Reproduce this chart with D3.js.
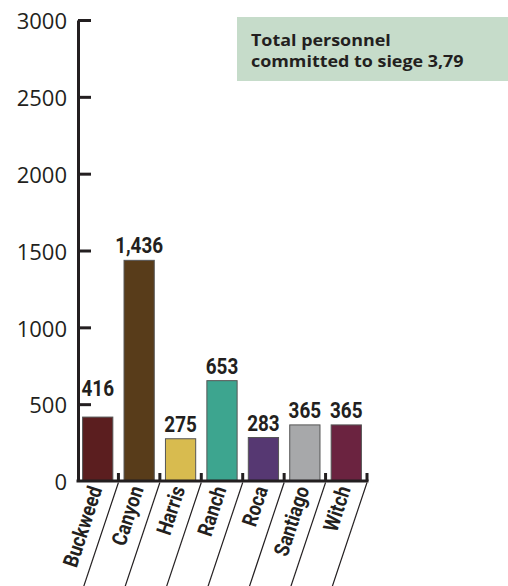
<!DOCTYPE html>
<html>
<head>
<meta charset="utf-8">
<script src="https://cdn.jsdelivr.net/npm/d3@7"></script>
<style>
  body { margin: 0; background: #fff; }
  svg { display: block; }
  .narrow { font-family: Roboto, "Liberation Sans", sans-serif; font-weight: bold; }
</style>
</head>
<body>
<div id="chart"></div>
<script>
// Personnel committed per fire
let fires = ["Buckweed", "Canyon", "Harris", "Ranch", "Roca", "Santiago", "Witch"];
let personnel = [416, 1436, 275, 653, 283, 365, 365];
let barColors = ["#5b1e1f", "#583c1a", "#d8bb4f", "#3da58f", "#563872", "#a7a8aa", "#6b2340"];
let yTicks = [0, 500, 1000, 1500, 2000, 2500, 3000];
let noteLines = ["Total personnel", "committed to siege 3,79"];

let width = 508,
    height = 586;

let data = fires.map(function (f, i) {
    return { name: f, value: personnel[i], color: barColors[i] };
});

let svg = d3.select("#chart").append("svg")
    .attr("width", width)
    .attr("height", height);

// Scales
let padIn = 0.27;
let x = d3.scaleBand()
    .domain(fires)
    .range([77, 367])
    .paddingInner(padIn)
    .paddingOuter(padIn / 2);

let y = d3.scaleLinear()
    .domain([0, 3000])
    .range([481, 20]);

// Note box top right
svg.append("rect")
    .attr("x", 237)
    .attr("y", 17)
    .attr("width", width - 237)
    .attr("height", 64)
    .attr("fill", "#c6dcca");

svg.append("g").selectAll("text")
    .data(noteLines)
    .enter().append("text")
    .attr("transform", function (d, i) {
        return "translate(251," + (46 + i * 20.5) + ") scale(1.12,1)";
    })
    .style("font-family", "'Open Sans', sans-serif")
    .style("font-weight", "bold")
    .style("font-size", "16px")
    .attr("fill", "#231f20")
    .text(function (d) { return d; });

// Bars
svg.append("g").selectAll("rect")
    .data(data)
    .enter().append("rect")
    .attr("x", function (d) { return x(d.name); })
    .attr("y", function (d) { return y(d.value); })
    .attr("width", x.bandwidth())
    .attr("height", function (d) { return y(0) - y(d.value); })
    .attr("fill", function (d) { return d.color; })
    .attr("stroke", "#555")
    .attr("stroke-width", 1);

// Value labels (Buckweed sits above the 500 tick)
svg.append("g").selectAll("text")
    .data(data)
    .enter().append("text")
    .attr("class", "narrow")
    .attr("transform", function (d) {
        let lx = x(d.name) + x.bandwidth() / 2;
        let ly = y(d.value) - (d.name === "Buckweed" ? 21 : 7);
        return "translate(" + lx + "," + ly + ") scale(0.84,1)";
    })
    .attr("text-anchor", "middle")
    .style("font-size", "22.5px")
    .attr("fill", "#231f20")
    .text(function (d) { return d3.format(",")(d.value); });

// Y axis
let yAxis = svg.append("g")
    .attr("transform", "translate(78,0)")
    .call(d3.axisLeft(y)
        .tickValues(yTicks)
        .tickFormat(d3.format("d"))
        .tickSizeInner(-13)
        .tickSizeOuter(0)
        .tickPadding(11));

yAxis.select(".domain")
    .attr("stroke", "#231f20")
    .attr("stroke-width", 3);
yAxis.selectAll(".tick line")
    .attr("stroke", "#231f20")
    .attr("stroke-width", 3);
yAxis.selectAll(".tick text")
    .attr("fill", "#231f20")
    .attr("dy", "0.4em")
    .style("font-family", "'Open Sans', sans-serif")
    .style("font-size", "22px");
yAxis.selectAll(".tick").filter(function (d) { return d === 0; })
    .select("line").remove();

// X axis: baseline, boundary ticks and slanted divider lines
let step = x.step();
let bounds = fires.map(function (f) {
    return x(f) + x.bandwidth() + step * padIn / 2;
});
let base = y(0);
let slope = 34 / 103;

let xAxis = svg.append("g");

xAxis.append("line")
    .attr("x1", 76.5)
    .attr("x2", bounds[bounds.length - 1] + 1.5)
    .attr("y1", base)
    .attr("y2", base)
    .attr("stroke", "#231f20")
    .attr("stroke-width", 3);

xAxis.selectAll(".bt")
    .data(bounds)
    .enter().append("line")
    .attr("class", "bt")
    .attr("x1", function (d) { return d; })
    .attr("x2", function (d) { return d; })
    .attr("y1", base - 8)
    .attr("y2", base)
    .attr("stroke", "#231f20")
    .attr("stroke-width", 3);

xAxis.selectAll(".slant")
    .data(bounds)
    .enter().append("line")
    .attr("class", "slant")
    .attr("x1", function (d) { return d; })
    .attr("y1", base + 1.5)
    .attr("x2", function (d) { return d - slope * (610 - base); })
    .attr("y2", 610)
    .attr("stroke", "#231f20")
    .attr("stroke-width", 1.2);

// Category labels, rotated along the dividers
xAxis.selectAll(".cat")
    .data(fires)
    .enter().append("text")
    .attr("class", "narrow cat")
    .attr("text-anchor", "end")
    .attr("transform", function (d, i) {
        return "translate(" + (bounds[i] - 16) + "," + (base + 8) + ") rotate(-72) scale(0.86,1)";
    })
    .style("font-size", "21px")
    .attr("fill", "#231f20")
    .text(function (d) { return d; });
</script>
</body>
</html>
